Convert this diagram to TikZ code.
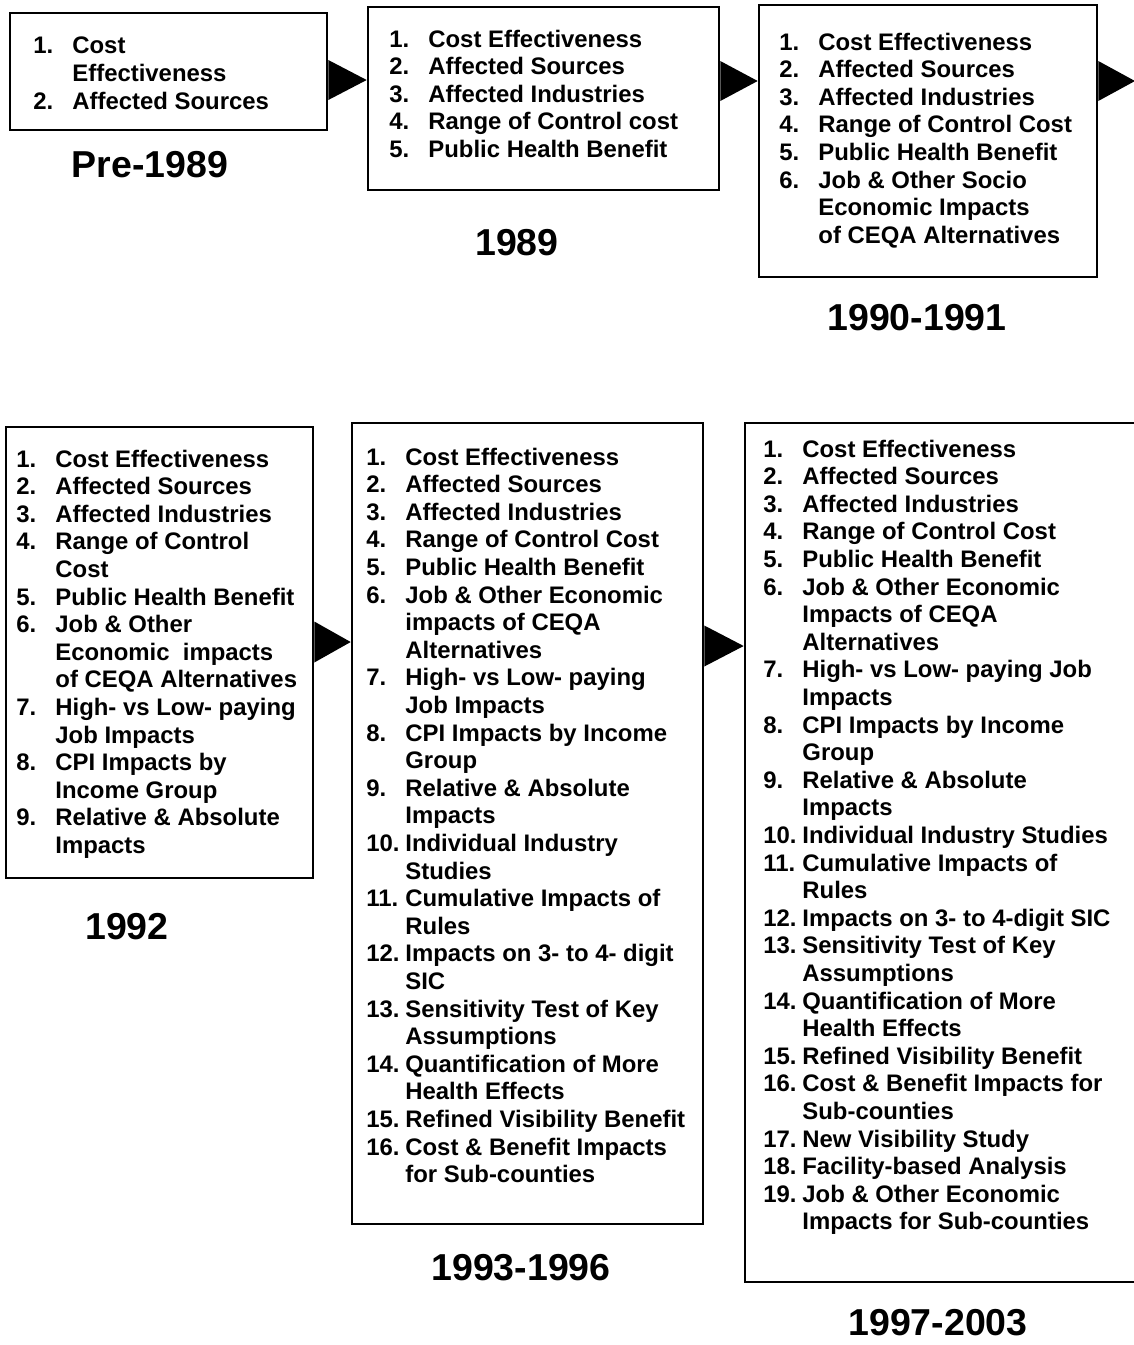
\documentclass[tikz,border=0pt]{standalone}
\usepackage{fontspec}
\setmainfont{Liberation Sans}
\usetikzlibrary{fit,calc}
\newlength\numw
\setlength\numw{19.5pt}
\newcommand\itm[1]{\makebox[\numw][l]{#1}}
\newcommand\ind{\hspace*{\numw}}
\newcommand\itemlist[1]{\parbox[t]{260pt}{\raggedright #1}}
\begin{document}
\begin{tikzpicture}[x=0.5pt,y=-0.5pt,
  box/.style={draw=black, line width=1.3pt, inner sep=0pt},
  items/.style={anchor=base west, inner sep=0pt,
    font={\bfseries\fontsize{11.95pt}{13.8pt}\selectfont}},
  year/.style={anchor=base, inner sep=0pt,
    font={\bfseries\fontsize{18.75pt}{22pt}\selectfont}},
  pointer/.style={fill=black}]
\clip (0,0) rectangle (1134,1345);
\fill[white] (0,0) rectangle (1134,1345);

% frames of the six stages
\node[box, fit={(10,13) (327,130)}] (A) {};
\node[box, fit={(368,7) (719,190)}] (B) {};
\node[box, fit={(759,5) (1097,277)}] (C) {};
\node[box, fit={(6,427) (313,878)}] (D) {};
\node[box, fit={(352,423) (703,1224)}] (E) {};
\node[box, fit={(745,423) (1140,1282)}] (F) {};

% item lists
\node[items, font={\bfseries\fontsize{11.95pt}{14.2pt}\selectfont}] (At) at (33,53) {\itemlist{%
\itm{1.}Cost\\
\ind Effectiveness\\
\itm{2.}Affected Sources}};

\node[items] (Bt) at (389,47) {\itemlist{%
\itm{1.}Cost Effectiveness\\
\itm{2.}Affected Sources\\
\itm{3.}Affected Industries\\
\itm{4.}Range of Control cost\\
\itm{5.}Public Health Benefit}};

\node[items] (Ct) at (779,50) {\itemlist{%
\itm{1.}Cost Effectiveness\\
\itm{2.}Affected Sources\\
\itm{3.}Affected Industries\\
\itm{4.}Range of Control Cost\\
\itm{5.}Public Health Benefit\\
\itm{6.}Job \& Other Socio\\
\ind Economic Impacts\\
\ind of CEQA Alternatives}};

\node[items] (Dt) at (16,467) {\itemlist{%
\itm{1.}Cost Effectiveness\\
\itm{2.}Affected Sources\\
\itm{3.}Affected Industries\\
\itm{4.}Range of Control\\
\ind Cost\\
\itm{5.}Public Health Benefit\\
\itm{6.}Job \& Other\\
\ind Economic\ \ impacts\\
\ind of CEQA Alternatives\\
\itm{7.}High- vs Low- paying\\
\ind Job Impacts\\
\itm{8.}CPI Impacts by\\
\ind Income Group\\
\itm{9.}Relative \& Absolute\\
\ind Impacts}};

\node[items] (Et) at (366,465) {\itemlist{%
\itm{1.}Cost Effectiveness\\
\itm{2.}Affected Sources\\
\itm{3.}Affected Industries\\
\itm{4.}Range of Control Cost\\
\itm{5.}Public Health Benefit\\
\itm{6.}Job \& Other Economic\\
\ind impacts of CEQA\\
\ind Alternatives\\
\itm{7.}High- vs Low- paying\\
\ind Job Impacts\\
\itm{8.}CPI Impacts by Income\\
\ind Group\\
\itm{9.}Relative \& Absolute\\
\ind Impacts\\
\itm{10.}Individual Industry\\
\ind Studies\\
\itm{11.}Cumulative Impacts of\\
\ind Rules\\
\itm{12.}Impacts on 3- to 4- digit\\
\ind SIC\\
\itm{13.}Sensitivity Test of Key\\
\ind Assumptions\\
\itm{14.}Quantification of More\\
\ind Health Effects\\
\itm{15.}Refined Visibility Benefit\\
\itm{16.}Cost \& Benefit Impacts\\
\ind for Sub-counties}};

\node[items] (Ft) at (763,457) {\itemlist{%
\itm{1.}Cost Effectiveness\\
\itm{2.}Affected Sources\\
\itm{3.}Affected Industries\\
\itm{4.}Range of Control Cost\\
\itm{5.}Public Health Benefit\\
\itm{6.}Job \& Other Economic\\
\ind Impacts of CEQA\\
\ind Alternatives\\
\itm{7.}High- vs Low- paying Job\\
\ind Impacts\\
\itm{8.}CPI Impacts by Income\\
\ind Group\\
\itm{9.}Relative \& Absolute\\
\ind Impacts\\
\itm{10.}Individual Industry Studies\\
\itm{11.}Cumulative Impacts of\\
\ind Rules\\
\itm{12.}Impacts on 3- to 4-digit SIC\\
\itm{13.}Sensitivity Test of Key\\
\ind Assumptions\\
\itm{14.}Quantification of More\\
\ind Health Effects\\
\itm{15.}Refined Visibility Benefit\\
\itm{16.}Cost \& Benefit Impacts for\\
\ind Sub-counties\\
\itm{17.}New Visibility Study\\
\itm{18.}Facility-based Analysis\\
\itm{19.}Job \& Other Economic\\
\ind Impacts for Sub-counties}};

% period labels
\node[year] (yA) at (150,177) {Pre-1989};
\node[year] (yB) at (517,255) {1989};
\node[year] (yC) at (917,330) {1990-1991};
\node[year] (yD) at (127,939) {1992};
\node[year] (yE) at (521,1280) {1993-1996};
\node[year] (yF) at (938,1335) {1997-2003};

% triangular pointers between stages
\coordinate (r1) at (0,80);
\coordinate (r2) at (0,81);
\coordinate (r4) at (0,642);
\coordinate (r5) at (0,646);
\coordinate (edge) at (1135,81);

\fill[pointer] ($(A.east|-r1)+(0,-20)$) -- (B.west|-r1) -- ($(A.east|-r1)+(0,20)$) -- cycle;
\fill[pointer] ($(B.east|-r2)+(0,-20)$) -- (C.west|-r2) -- ($(B.east|-r2)+(0,20)$) -- cycle;
\fill[pointer] ($(C.east|-r2)+(0,-20)$) -- (edge) -- ($(C.east|-r2)+(0,20)$) -- cycle;
\fill[pointer] ($(D.east|-r4)+(0,-20.5)$) -- (E.west|-r4) -- ($(D.east|-r4)+(0,20.5)$) -- cycle;
\fill[pointer] ($(E.east|-r5)+(0,-20.5)$) -- (F.west|-r5) -- ($(E.east|-r5)+(0,20.5)$) -- cycle;
\end{tikzpicture}
\end{document}
